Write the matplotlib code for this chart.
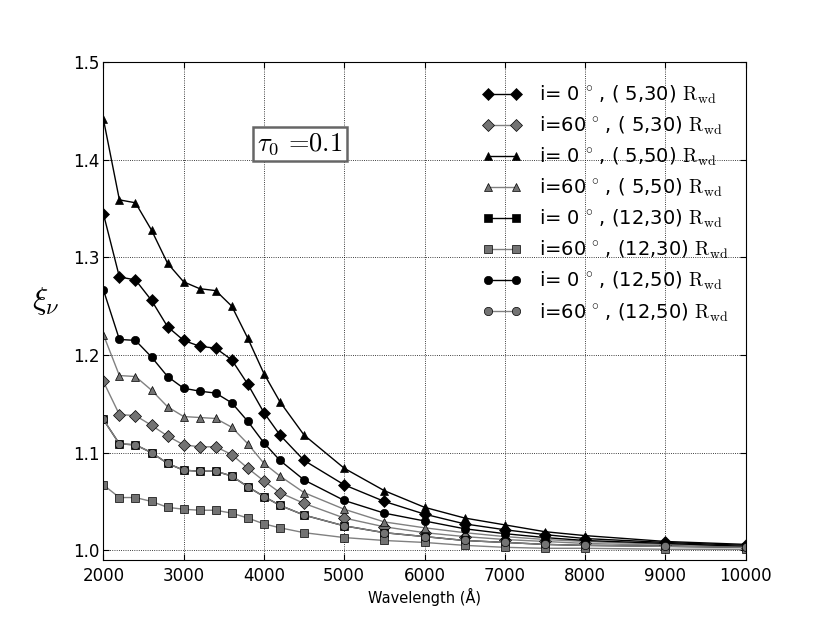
import numpy as np
import matplotlib
matplotlib.use('Agg')
import matplotlib.pyplot as plt

plt.rcParams['mathtext.fontset'] = 'cm'
plt.rcParams['font.family'] = 'DejaVu Sans'

# wavelength grid (Angstrom)
wave = [2000, 2200, 2400, 2600, 2800, 3000, 3200, 3400, 3600, 3800, 4000,
        4200, 4500, 5000, 5500, 6000, 6500, 7000, 7500, 8000, 9000, 10000]

# xi_nu for each model
i0_5_30 = [1.345, 1.280, 1.277, 1.256, 1.229, 1.215, 1.209, 1.207, 1.195, 1.170, 1.141,
           1.118, 1.092, 1.067, 1.050, 1.037, 1.027, 1.021, 1.016, 1.012, 1.008, 1.005]
i60_5_30 = [1.173, 1.139, 1.138, 1.128, 1.117, 1.108, 1.106, 1.106, 1.098, 1.084, 1.071,
            1.059, 1.048, 1.033, 1.024, 1.018, 1.014, 1.011, 1.009, 1.007, 1.005, 1.003]
i0_5_50 = [1.442, 1.359, 1.356, 1.328, 1.294, 1.275, 1.268, 1.266, 1.250, 1.217, 1.181,
           1.152, 1.118, 1.084, 1.061, 1.044, 1.033, 1.026, 1.019, 1.015, 1.009, 1.006]
i60_5_50 = [1.221, 1.179, 1.178, 1.164, 1.147, 1.137, 1.136, 1.135, 1.126, 1.109, 1.089,
            1.076, 1.059, 1.042, 1.029, 1.023, 1.018, 1.014, 1.011, 1.009, 1.006, 1.004]
i0_12_30 = [1.134, 1.109, 1.108, 1.100, 1.089, 1.082, 1.081, 1.081, 1.076, 1.065, 1.055,
            1.046, 1.036, 1.025, 1.018, 1.014, 1.010, 1.008, 1.006, 1.005, 1.004, 1.003]
i60_12_30 = [1.067, 1.054, 1.054, 1.050, 1.044, 1.042, 1.041, 1.041, 1.038, 1.033, 1.027,
             1.023, 1.018, 1.013, 1.010, 1.008, 1.005, 1.003, 1.002, 1.002, 1.001, 1.001]
i0_12_50 = [1.267, 1.216, 1.215, 1.198, 1.178, 1.166, 1.163, 1.161, 1.151, 1.132, 1.110,
            1.092, 1.072, 1.051, 1.038, 1.030, 1.022, 1.017, 1.013, 1.010, 1.007, 1.004]
i60_12_50 = [1.134, 1.109, 1.108, 1.100, 1.089, 1.082, 1.081, 1.081, 1.076, 1.065, 1.055,
             1.046, 1.036, 1.025, 1.018, 1.014, 1.010, 1.008, 1.006, 1.005, 1.004, 1.003]

labels = [r'i= 0$\,{}^\circ\,$, ( 5,30) $\mathrm{R_{wd}}$',
          r'i=60$\,{}^\circ\,$, ( 5,30) $\mathrm{R_{wd}}$',
          r'i= 0$\,{}^\circ\,$, ( 5,50) $\mathrm{R_{wd}}$',
          r'i=60$\,{}^\circ\,$, ( 5,50) $\mathrm{R_{wd}}$',
          r'i= 0$\,{}^\circ\,$, (12,30) $\mathrm{R_{wd}}$',
          r'i=60$\,{}^\circ\,$, (12,30) $\mathrm{R_{wd}}$',
          r'i= 0$\,{}^\circ\,$, (12,50) $\mathrm{R_{wd}}$',
          r'i=60$\,{}^\circ\,$, (12,50) $\mathrm{R_{wd}}$']
series = [i0_5_30, i60_5_30, i0_5_50, i60_5_50, i0_12_30, i60_12_30, i0_12_50, i60_12_50]

markers = ['D', 'D', '^', '^', 's', 's', 'o', 'o']
sizes = [6, 6, 6, 6, 6, 6, 6, 6]
black, gray = 'k', '0.45'
fcs = [black, gray] * 4
lcs = [black, '0.5'] * 4

fig = plt.figure(figsize=(8.3, 6.23), dpi=100)
ax = fig.add_axes([0.1245, 0.1011, 0.774, 0.799])

for y, m, ms, fc, lc, lab in zip(series, markers, sizes, fcs, lcs, labels):
    ax.plot(wave, y, '-', color=lc, lw=1.0, marker=m, ms=ms, mfc=fc, mec='k', mew=0.5, label=lab)

ax.set_xlim(2000, 10000)
ax.set_ylim(0.99, 1.5)
ax.set_xticks([2000, 3000, 4000, 5000, 6000, 7000, 8000, 9000, 10000])
ax.set_yticks([1.0, 1.1, 1.2, 1.3, 1.4, 1.5])
ax.grid(True, color='k', ls=':', lw=0.6)
ax.tick_params(direction='in', top=True, right=True, labelsize=12, length=4)
ax.tick_params(axis='y', pad=3)
ax.tick_params(axis='x', pad=5)

ax.set_xlabel(u'Wavelength (\u00c5)', fontsize=10.5, labelpad=2)
ax.set_ylabel(r'$\xi_\nu$', fontsize=23, rotation=0, ha='center', va='center')
ax.yaxis.set_label_coords(-0.09, 0.52)

ax.text(4450, 1.416, r'$\tau_0$ =0.1', fontsize=19, family='cmr10', ha='center', va='center',
        bbox=dict(boxstyle='square,pad=0.15', fc='white', ec='0.4', lw=1.8))

ax.legend(loc='upper right', bbox_to_anchor=(0.995, 0.985), frameon=False, numpoints=2,
          fontsize=14, labelspacing=0.45, handlelength=2.0, handletextpad=0.9,
          borderaxespad=0.3)

fig.savefig('out.png', dpi=100)
